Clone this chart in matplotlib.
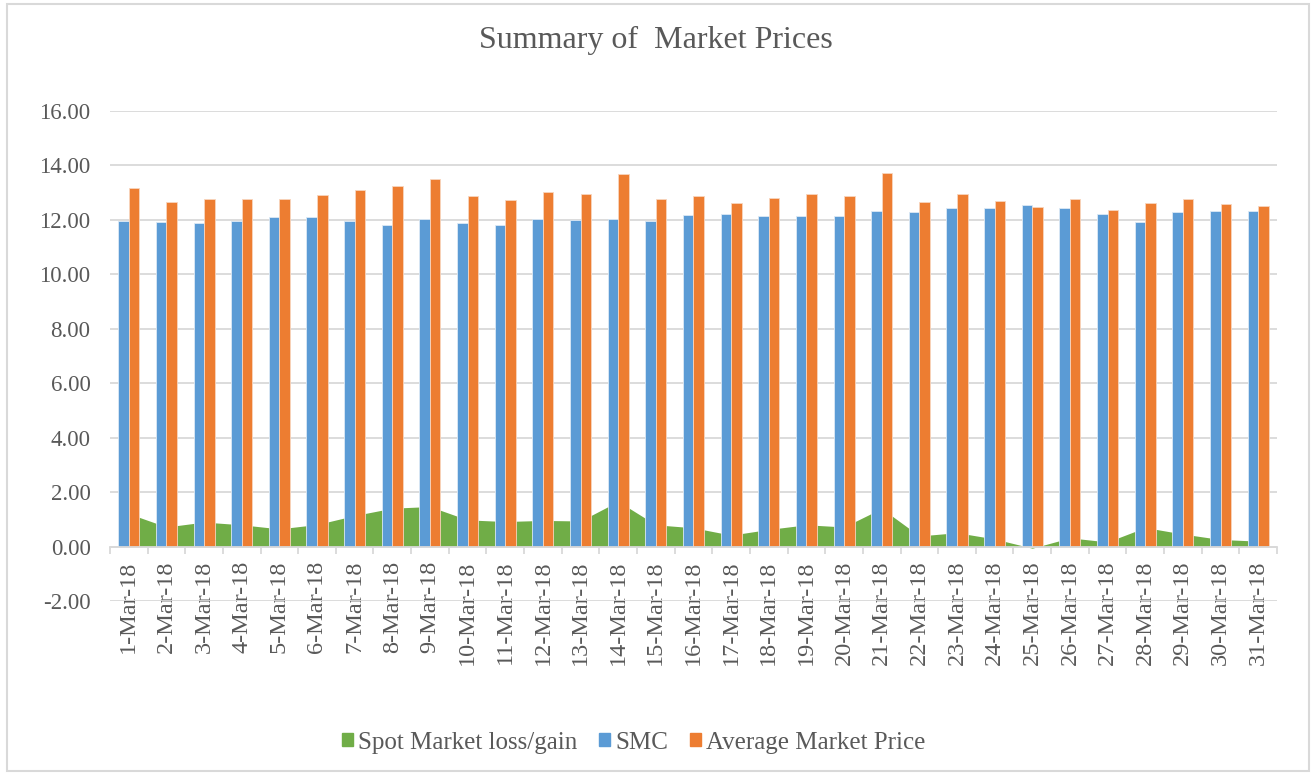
import matplotlib
matplotlib.use("Agg")
import matplotlib.pyplot as plt
from matplotlib.patches import Patch, Rectangle
import numpy as np

plt.rcParams['font.family'] = ['Liberation Serif', 'DejaVu Serif']

days = ['%d-Mar-18' % d for d in range(1, 32)]

smc = [11.96, 11.93, 11.87, 11.96, 12.12, 12.10, 11.96, 11.82, 12.04, 11.89,
       11.80, 12.05, 12.00, 12.02, 11.96, 12.17, 12.21, 12.16, 12.16, 12.16,
       12.33, 12.28, 12.43, 12.42, 12.54, 12.45, 12.20, 11.93, 12.29, 12.33,
       12.32]
avg_price = [13.17, 12.65, 12.77, 12.76, 12.77, 12.91, 13.10, 13.23, 13.51, 12.87,
             12.72, 13.01, 12.94, 13.68, 12.76, 12.86, 12.63, 12.79, 12.96, 12.88,
             13.73, 12.67, 12.94, 12.70, 12.48, 12.77, 12.37, 12.63, 12.75, 12.59,
             12.52]
spot_gain = [1.21, 0.72, 0.90, 0.80, 0.65, 0.81, 1.14, 1.41, 1.47, 0.98,
             0.92, 0.96, 0.94, 1.66, 0.80, 0.69, 0.42, 0.63, 0.80, 0.72,
             1.40, 0.39, 0.51, 0.28, -0.06, 0.32, 0.17, 0.70, 0.46, 0.26,
             0.20]

green = '#70AD47'
blue = '#5B9BD5'
orange = '#ED7D31'
grid_c = '#D9D9D9'
text_c = '#595959'

fig = plt.figure(figsize=(13.12, 7.73), dpi=100)
ax = fig.add_axes([0.0838, 0.2225, 0.8895, 0.6339])

x = np.arange(len(days))
w = 0.28
ax.fill_between(x, 0, spot_gain, color=green, lw=0, zorder=2)
ax.bar(x - w / 2, smc, w, color=blue, edgecolor='#DCE9F5', linewidth=0.6, zorder=3)
ax.bar(x + w / 2, avg_price, w, color=orange, edgecolor='#F8D5BE', linewidth=0.6, zorder=3)

ax.set_xlim(-0.5, len(days) - 0.5)
ax.set_ylim(-2, 16)
ax.set_yticks(np.arange(-2, 17, 2))
ax.set_yticklabels(['%.2f' % v for v in np.arange(-2, 17, 2)])
ax.yaxis.grid(True, color=grid_c, linewidth=1.3, zorder=0)
ax.set_axisbelow(True)

for s in ['top', 'right', 'left']:
    ax.spines[s].set_visible(False)
ax.spines['bottom'].set_position(('data', 0))
ax.spines['bottom'].set_color(grid_c)
ax.spines['bottom'].set_linewidth(1.3)
ax.spines['bottom'].set_zorder(4)

ax.set_xticks(x)
ax.set_xticklabels(days, rotation=90, va='top')
ax.set_xticks(np.arange(-0.5, len(days), 1), minor=True)
ax.tick_params(axis='x', which='major', length=0, pad=10, labelsize=17.5, labelcolor=text_c)
ax.tick_params(axis='x', which='minor', length=5, width=1.3, color=grid_c)
ax.tick_params(axis='y', length=0, pad=14, labelsize=16.5, labelcolor=text_c)

fig.text(0.5, 0.948, 'Summary of  Market Prices', ha='center', va='center',
         fontsize=23, color=text_c)

handles = [Patch(color=green), Patch(color=blue), Patch(color=orange)]
fig.legend(handles, ['Spot Market loss/gain', 'SMC', 'Average Market Price'],
           loc='center', bbox_to_anchor=(0.483, 0.039), ncol=3, frameon=False,
           handlelength=0.42, handleheight=0.42, handletextpad=0.2,
           columnspacing=0.9, fontsize=18, labelcolor=text_c)

fig.patches.append(Rectangle((0.005, 0.002), 0.993, 0.993, transform=fig.transFigure,
                             fill=False, edgecolor=grid_c, linewidth=1.5))

fig.savefig('out.png', dpi=100)
